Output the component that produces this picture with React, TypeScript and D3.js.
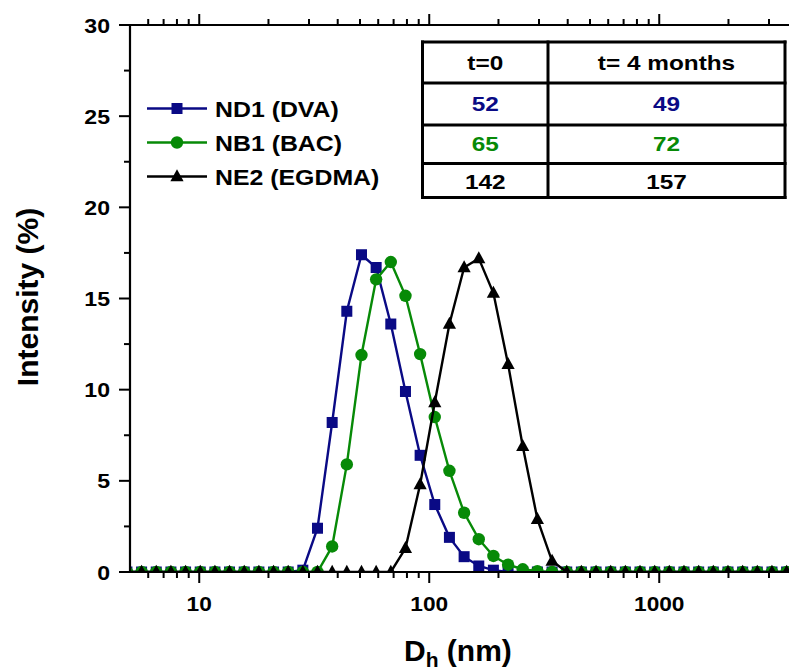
import React from "react";
import * as d3 from "d3";

// Hydrodynamic diameter bins (nm)
const sizes = [4.849, 5.615, 6.503, 7.531, 8.721, 10.1, 11.7, 13.54, 15.69, 18.17, 21.04, 24.36, 28.21, 32.67, 37.84, 43.82, 50.75, 58.77, 68.06, 78.82, 91.28, 105.7, 122.4, 141.8, 164.2, 190.1, 220.2, 255.0, 295.3, 342.0, 396.1, 458.7, 531.2, 615.1, 712.4, 825.0, 955.4, 1106, 1281, 1484, 1718, 1990, 2305, 2669, 3091, 3580, 4145];

const nd1 = [0, 0, 0, 0, 0, 0, 0, 0, 0, 0, 0, 0, 0.1, 2.4, 8.2, 14.3, 17.4, 16.7, 13.6, 9.9, 6.4, 3.7, 1.9, 0.84, 0.33, 0.1, 0, 0, 0, 0, 0, 0, 0, 0, 0, 0, 0, 0, 0, 0, 0, 0, 0, 0, 0, 0, 0];
const nb1 = [0, 0, 0, 0, 0, 0, 0, 0, 0, 0, 0, 0, 0, 0, 1.4, 5.9, 11.9, 16.05, 17.0, 15.15, 11.95, 8.5, 5.55, 3.25, 1.8, 0.88, 0.4, 0.15, 0.05, 0, 0, 0, 0, 0, 0, 0, 0, 0, 0, 0, 0, 0, 0, 0, 0, 0, 0];
const ne2 = [0, 0, 0, 0, 0, 0, 0, 0, 0, 0, 0, 0, 0, 0, 0, 0, 0, 0, 0, 1.3, 4.8, 9.3, 13.6, 16.7, 17.2, 15.3, 11.4, 6.9, 2.9, 0.6, 0, 0, 0, 0, 0, 0, 0, 0, 0, 0, 0, 0, 0, 0, 0, 0, 0];

const seriesNames = ["ND1 (DVA)", "NB1 (BAC)", "NE2 (EGDMA)"];
const seriesColors = ["#0a0a85", "#078a07", "#000000"];
const seriesShapes = ["square", "circle", "triangle"];

const yTicks = [0, 5, 10, 15, 20, 25, 30];
const yMinor = [2.5, 7.5, 12.5, 17.5, 22.5, 27.5];
const xMajor = [10, 100, 1000];
const xMinor = [6, 7, 8, 9, 20, 30, 40, 50, 60, 70, 80, 90, 200, 300, 400, 500, 600, 700, 800, 900, 2000, 3000];

const tableHeader = ["t=0", "t= 4 months"];
const tableT0 = ["52", "65", "142"];
const table4m = ["49", "72", "157"];

const FONT = "Arial, 'Liberation Sans', sans-serif";

function Marker({ shape, cx, cy, color }: { shape: string; cx: number; cy: number; color: string }) {
  if (shape === "square") return <rect x={cx - 5.5} y={cy - 5.5} width={11} height={11} fill={color} />;
  if (shape === "circle") return <circle cx={cx} cy={cy} r={6.2} fill={color} />;
  return <path d={`M${cx},${cy - 7.2}L${cx + 6.6},${cy + 4.8}L${cx - 6.6},${cy + 4.8}Z`} fill={color} />;
}

function T({ x, y, size, sx = 1, anchor = "middle", fill = "#000", children }: any) {
  return (
    <text
      transform={`translate(${x},${y}) scale(${sx},1)`}
      fontFamily={FONT}
      fontWeight="bold"
      fontSize={size}
      textAnchor={anchor}
      fill={fill}
    >
      {children}
    </text>
  );
}

export default function App() {
  const W = 789, H = 672;
  const x = d3.scaleLog().domain([5, 4000]).range([130, 130 + 230 * Math.log10(800)]);
  const y = d3.scaleLinear().domain([0, 30]).range([572, 25]);
  const series = [nd1, nb1, ne2];
  const line = d3.line<number>().x((_, i) => x(sizes[i])).y((d) => y(d));

  const x0 = 130, yB = 572, yT = 25;

  // table geometry
  const tL = 422.5, tM = 548, tR = 785;
  const rows = [42, 83, 125, 163.5, 197.5];

  return (
    <div style={{ position: "absolute", left: 0, top: 0 }}>
      <svg width={W} height={H} style={{ display: "block", background: "#fff" }}>
        <defs>
          <clipPath id="plotclip">
            <rect x={x0} y={0} width={W} height={yB - 0} />
          </clipPath>
        </defs>
        <rect x={0} y={0} width={W} height={H} fill="#fff" />

        {/* series */}
        <g clipPath="url(#plotclip)">
          {series.map((s, si) => (
            <g key={si}>
              <path d={line(s) || ""} fill="none" stroke={seriesColors[si]} strokeWidth={2.4} />
              {s.map((v, i) => (
                <Marker key={i} shape={seriesShapes[si]} cx={x(sizes[i])} cy={y(v)} color={seriesColors[si]} />
              ))}
            </g>
          ))}
        </g>

        {/* axes */}
        <line x1={x0} x2={W} y1={yB} y2={yB} stroke="#000" strokeWidth={2.2} />
        <line x1={x0} x2={W} y1={yT} y2={yT} stroke="#000" strokeWidth={2.2} />
        <line x1={x0} x2={x0} y1={yT - 1} y2={yB + 1} stroke="#000" strokeWidth={2.2} />

        {xMajor.map((v) => (
          <g key={"xm" + v}>
            <line x1={x(v)} x2={x(v)} y1={yB} y2={yB + 11} stroke="#000" strokeWidth={2} />
            <line x1={x(v)} x2={x(v)} y1={yT} y2={yT - 11} stroke="#000" strokeWidth={2} />
            <T x={x(v)} y={611} size={21} sx={1.08}>{v}</T>
          </g>
        ))}
        {xMinor.map((v) => (
          <g key={"xn" + v}>
            <line x1={x(v)} x2={x(v)} y1={yB} y2={yB + 6} stroke="#000" strokeWidth={2} />
            <line x1={x(v)} x2={x(v)} y1={yT} y2={yT - 6} stroke="#000" strokeWidth={2} />
          </g>
        ))}
        {yTicks.map((v) => (
          <g key={"ym" + v}>
            <line x1={x0} x2={x0 - 11} y1={y(v)} y2={y(v)} stroke="#000" strokeWidth={2} />
            <T x={110} y={y(v) + 7.5} size={21} sx={1.1} anchor="end">{v}</T>
          </g>
        ))}
        {yMinor.map((v) => (
          <line key={"yn" + v} x1={x0} x2={x0 - 6} y1={y(v)} y2={y(v)} stroke="#000" strokeWidth={2} />
        ))}

        {/* axis titles */}
        <text transform="translate(37.5,297) rotate(-90)" fontFamily={FONT} fontWeight="bold" fontSize={30} textAnchor="middle">
          Intensity (%)
        </text>
        <text x={404} y={661} fontFamily={FONT} fontWeight="bold" fontSize={30}>
          D<tspan fontSize={21} dy={6}>h</tspan><tspan dy={-6}> (nm)</tspan>
        </text>

        {/* legend */}
        {seriesNames.map((n, i) => {
          const ly = [108.5, 142.5, 176.5][i];
          return (
            <g key={n}>
              <line x1={147} x2={207} y1={ly} y2={ly} stroke={seriesColors[i]} strokeWidth={2.4} />
              <Marker shape={seriesShapes[i]} cx={177} cy={ly} color={seriesColors[i]} />
              <T x={215} y={ly + 8} size={22} sx={1.13} anchor="start">{n}</T>
            </g>
          );
        })}

        {/* table */}
        <rect x={tL} y={rows[0]} width={tR - tL} height={rows[4] - rows[0]} fill="#fff" stroke="none" />
        {rows.map((r, i) => (
          <line key={"r" + i} x1={tL - 1.5} x2={tR + 1.5} y1={r} y2={r} stroke="#000" strokeWidth={3} />
        ))}
        {[tL, tM, tR].map((c, i) => (
          <line key={"c" + i} x1={c} x2={c} y1={rows[0] - 1.5} y2={rows[4] + 1.5} stroke="#000" strokeWidth={3} />
        ))}
        <T x={(tL + tM) / 2} y={70} size={21} sx={1.16}>{tableHeader[0]}</T>
        <T x={(tM + tR) / 2} y={70} size={21} sx={1.16}>{tableHeader[1]}</T>
        {tableT0.map((v, i) => (
          <T key={"a" + i} x={(tL + tM) / 2} y={[110.5, 150.5, 188.5][i]} size={21} sx={1.16} fill={seriesColors[i]}>{v}</T>
        ))}
        {table4m.map((v, i) => (
          <T key={"b" + i} x={(tM + tR) / 2} y={[110.5, 150.5, 188.5][i]} size={21} sx={1.16} fill={seriesColors[i]}>{v}</T>
        ))}
      </svg>
    </div>
  );
}
